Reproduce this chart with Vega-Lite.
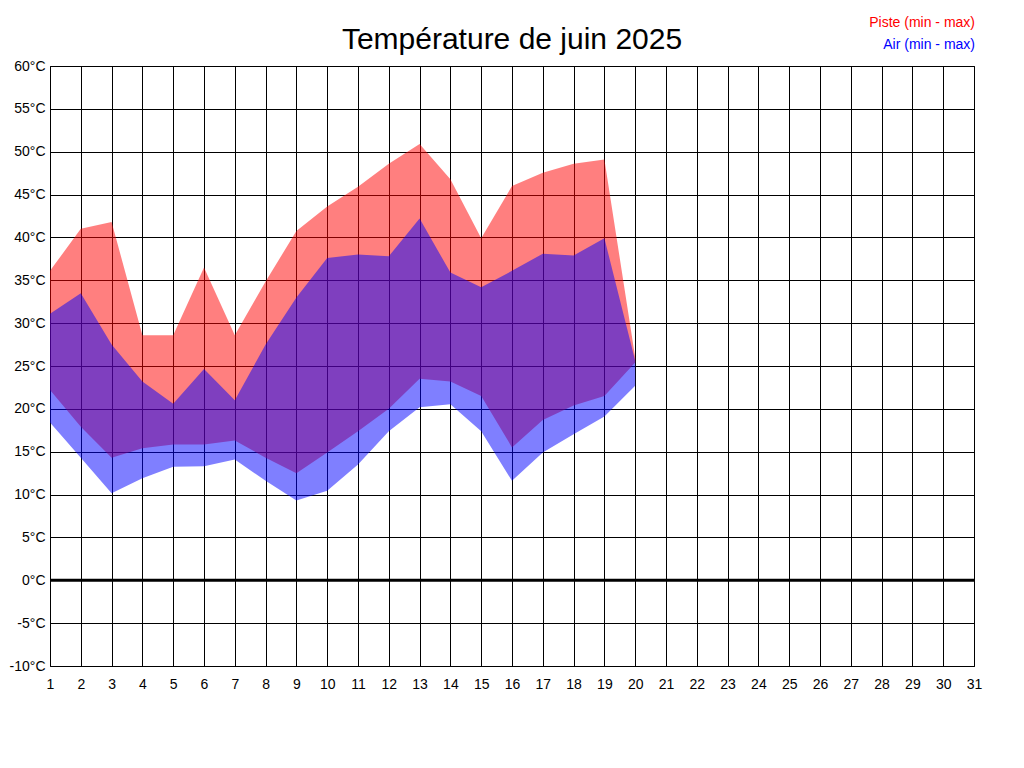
{
  "$schema": "https://vega.github.io/schema/vega-lite/v6.json",
  "width": 924,
  "height": 600,
  "autosize": {"type": "none"},
  "padding": {"left": 50, "top": 66, "right": 50, "bottom": 102},
  "background": "white",
  "title": {
    "text": "Température de juin 2025",
    "font": "Liberation Sans",
    "fontSize": 30,
    "fontWeight": "normal",
    "color": "black",
    "anchor": "middle",
    "frame": "group",
    "baseline": "alphabetic",
    "offset": 20,
    "dy": 83
  },
  "data": {
    "values": [
      {"jour": 1, "serie": "Piste (min - max)", "min": 22.2, "max": 36.1},
      {"jour": 2, "serie": "Piste (min - max)", "min": 17.9, "max": 41.0},
      {"jour": 3, "serie": "Piste (min - max)", "min": 14.3, "max": 41.8},
      {"jour": 4, "serie": "Piste (min - max)", "min": 15.4, "max": 28.6},
      {"jour": 5, "serie": "Piste (min - max)", "min": 15.85, "max": 28.6},
      {"jour": 6, "serie": "Piste (min - max)", "min": 15.85, "max": 36.5},
      {"jour": 7, "serie": "Piste (min - max)", "min": 16.3, "max": 28.6},
      {"jour": 8, "serie": "Piste (min - max)", "min": 14.3, "max": 34.85},
      {"jour": 9, "serie": "Piste (min - max)", "min": 12.5, "max": 40.75},
      {"jour": 10, "serie": "Piste (min - max)", "min": 14.9, "max": 43.6},
      {"jour": 11, "serie": "Piste (min - max)", "min": 17.4, "max": 45.9},
      {"jour": 12, "serie": "Piste (min - max)", "min": 20.0, "max": 48.6},
      {"jour": 13, "serie": "Piste (min - max)", "min": 23.5, "max": 50.9},
      {"jour": 14, "serie": "Piste (min - max)", "min": 23.2, "max": 46.8},
      {"jour": 15, "serie": "Piste (min - max)", "min": 21.5, "max": 39.9},
      {"jour": 16, "serie": "Piste (min - max)", "min": 15.5, "max": 46.0},
      {"jour": 17, "serie": "Piste (min - max)", "min": 18.7, "max": 47.55},
      {"jour": 18, "serie": "Piste (min - max)", "min": 20.4, "max": 48.6},
      {"jour": 19, "serie": "Piste (min - max)", "min": 21.5, "max": 49.1},
      {"jour": 20, "serie": "Piste (min - max)", "min": 25.4, "max": 26.0},
      {"jour": 1, "serie": "Air (min - max)", "min": 18.4, "max": 31.1},
      {"jour": 2, "serie": "Air (min - max)", "min": 14.3, "max": 33.5},
      {"jour": 3, "serie": "Air (min - max)", "min": 10.15, "max": 27.5},
      {"jour": 4, "serie": "Air (min - max)", "min": 11.9, "max": 23.2},
      {"jour": 5, "serie": "Air (min - max)", "min": 13.25, "max": 20.6},
      {"jour": 6, "serie": "Air (min - max)", "min": 13.3, "max": 24.65},
      {"jour": 7, "serie": "Air (min - max)", "min": 14.1, "max": 21.0},
      {"jour": 8, "serie": "Air (min - max)", "min": 11.6, "max": 27.5},
      {"jour": 9, "serie": "Air (min - max)", "min": 9.3, "max": 33.0},
      {"jour": 10, "serie": "Air (min - max)", "min": 10.45, "max": 37.6},
      {"jour": 11, "serie": "Air (min - max)", "min": 13.5, "max": 38.0},
      {"jour": 12, "serie": "Air (min - max)", "min": 17.4, "max": 37.8},
      {"jour": 13, "serie": "Air (min - max)", "min": 20.2, "max": 42.2},
      {"jour": 14, "serie": "Air (min - max)", "min": 20.55, "max": 35.9},
      {"jour": 15, "serie": "Air (min - max)", "min": 17.4, "max": 34.2},
      {"jour": 16, "serie": "Air (min - max)", "min": 11.6, "max": 36.1},
      {"jour": 17, "serie": "Air (min - max)", "min": 14.9, "max": 38.1},
      {"jour": 18, "serie": "Air (min - max)", "min": 17.05, "max": 37.9},
      {"jour": 19, "serie": "Air (min - max)", "min": 19.1, "max": 39.9},
      {"jour": 20, "serie": "Air (min - max)", "min": 22.7, "max": 25.6}
    ]
  },
  "layer": [
    {
      "mark": {"type": "area", "opacity": 0.5, "interpolate": "linear"},
      "encoding": {
        "x": {
          "field": "jour",
          "type": "quantitative",
          "scale": {"domain": [1, 31], "nice": false, "zero": false},
          "axis": {
            "title": null,
            "values": [1, 2, 3, 4, 5, 6, 7, 8, 9, 10, 11, 12, 13, 14, 15, 16, 17, 18, 19, 20, 21, 22, 23, 24, 25, 26, 27, 28, 29, 30, 31],
            "labelPadding": 11,
            "labelFlush": false
          }
        },
        "y": {
          "field": "min",
          "type": "quantitative",
          "stack": null,
          "scale": {"domain": [-10, 60], "nice": false, "zero": false},
          "axis": {
            "title": null,
            "values": [-10, -5, 0, 5, 10, 15, 20, 25, 30, 35, 40, 45, 50, 55, 60],
            "labelExpr": "datum.value + '°C'",
            "labelPadding": 5,
            "labelFlush": false
          }
        },
        "y2": {"field": "max"},
        "color": {
          "field": "serie",
          "type": "nominal",
          "sort": null,
          "scale": {"domain": ["Piste (min - max)", "Air (min - max)"], "range": ["#ff0000", "#0000ff"]},
          "legend": {
            "title": null,
            "orient": "none",
            "legendX": 911,
            "legendY": -50,
            "padding": 0,
            "symbolSize": 0,
            "symbolOpacity": 0,
            "symbolStrokeWidth": 0,
            "labelAlign": "right",
            "labelOffset": 0,
            "labelFont": "Liberation Sans",
            "labelFontSize": 14,
            "rowPadding": 8,
            "encode": {
              "labels": {"update": {"fill": {"scale": "color", "field": "value"}}}
            }
          }
        }
      }
    },
    {
      "data": {"values": [{"zero": 0}]},
      "mark": {"type": "rule", "color": "black", "strokeWidth": 3},
      "encoding": {"y": {"field": "zero", "type": "quantitative"}}
    }
  ],
  "config": {
    "view": {"stroke": "black", "strokeWidth": 1},
    "axis": {
      "grid": true,
      "gridColor": "black",
      "gridOpacity": 1,
      "gridWidth": 1,
      "ticks": false,
      "domain": false,
      "labelFont": "Liberation Sans",
      "labelFontSize": 14,
      "labelColor": "black"
    }
  }
}
